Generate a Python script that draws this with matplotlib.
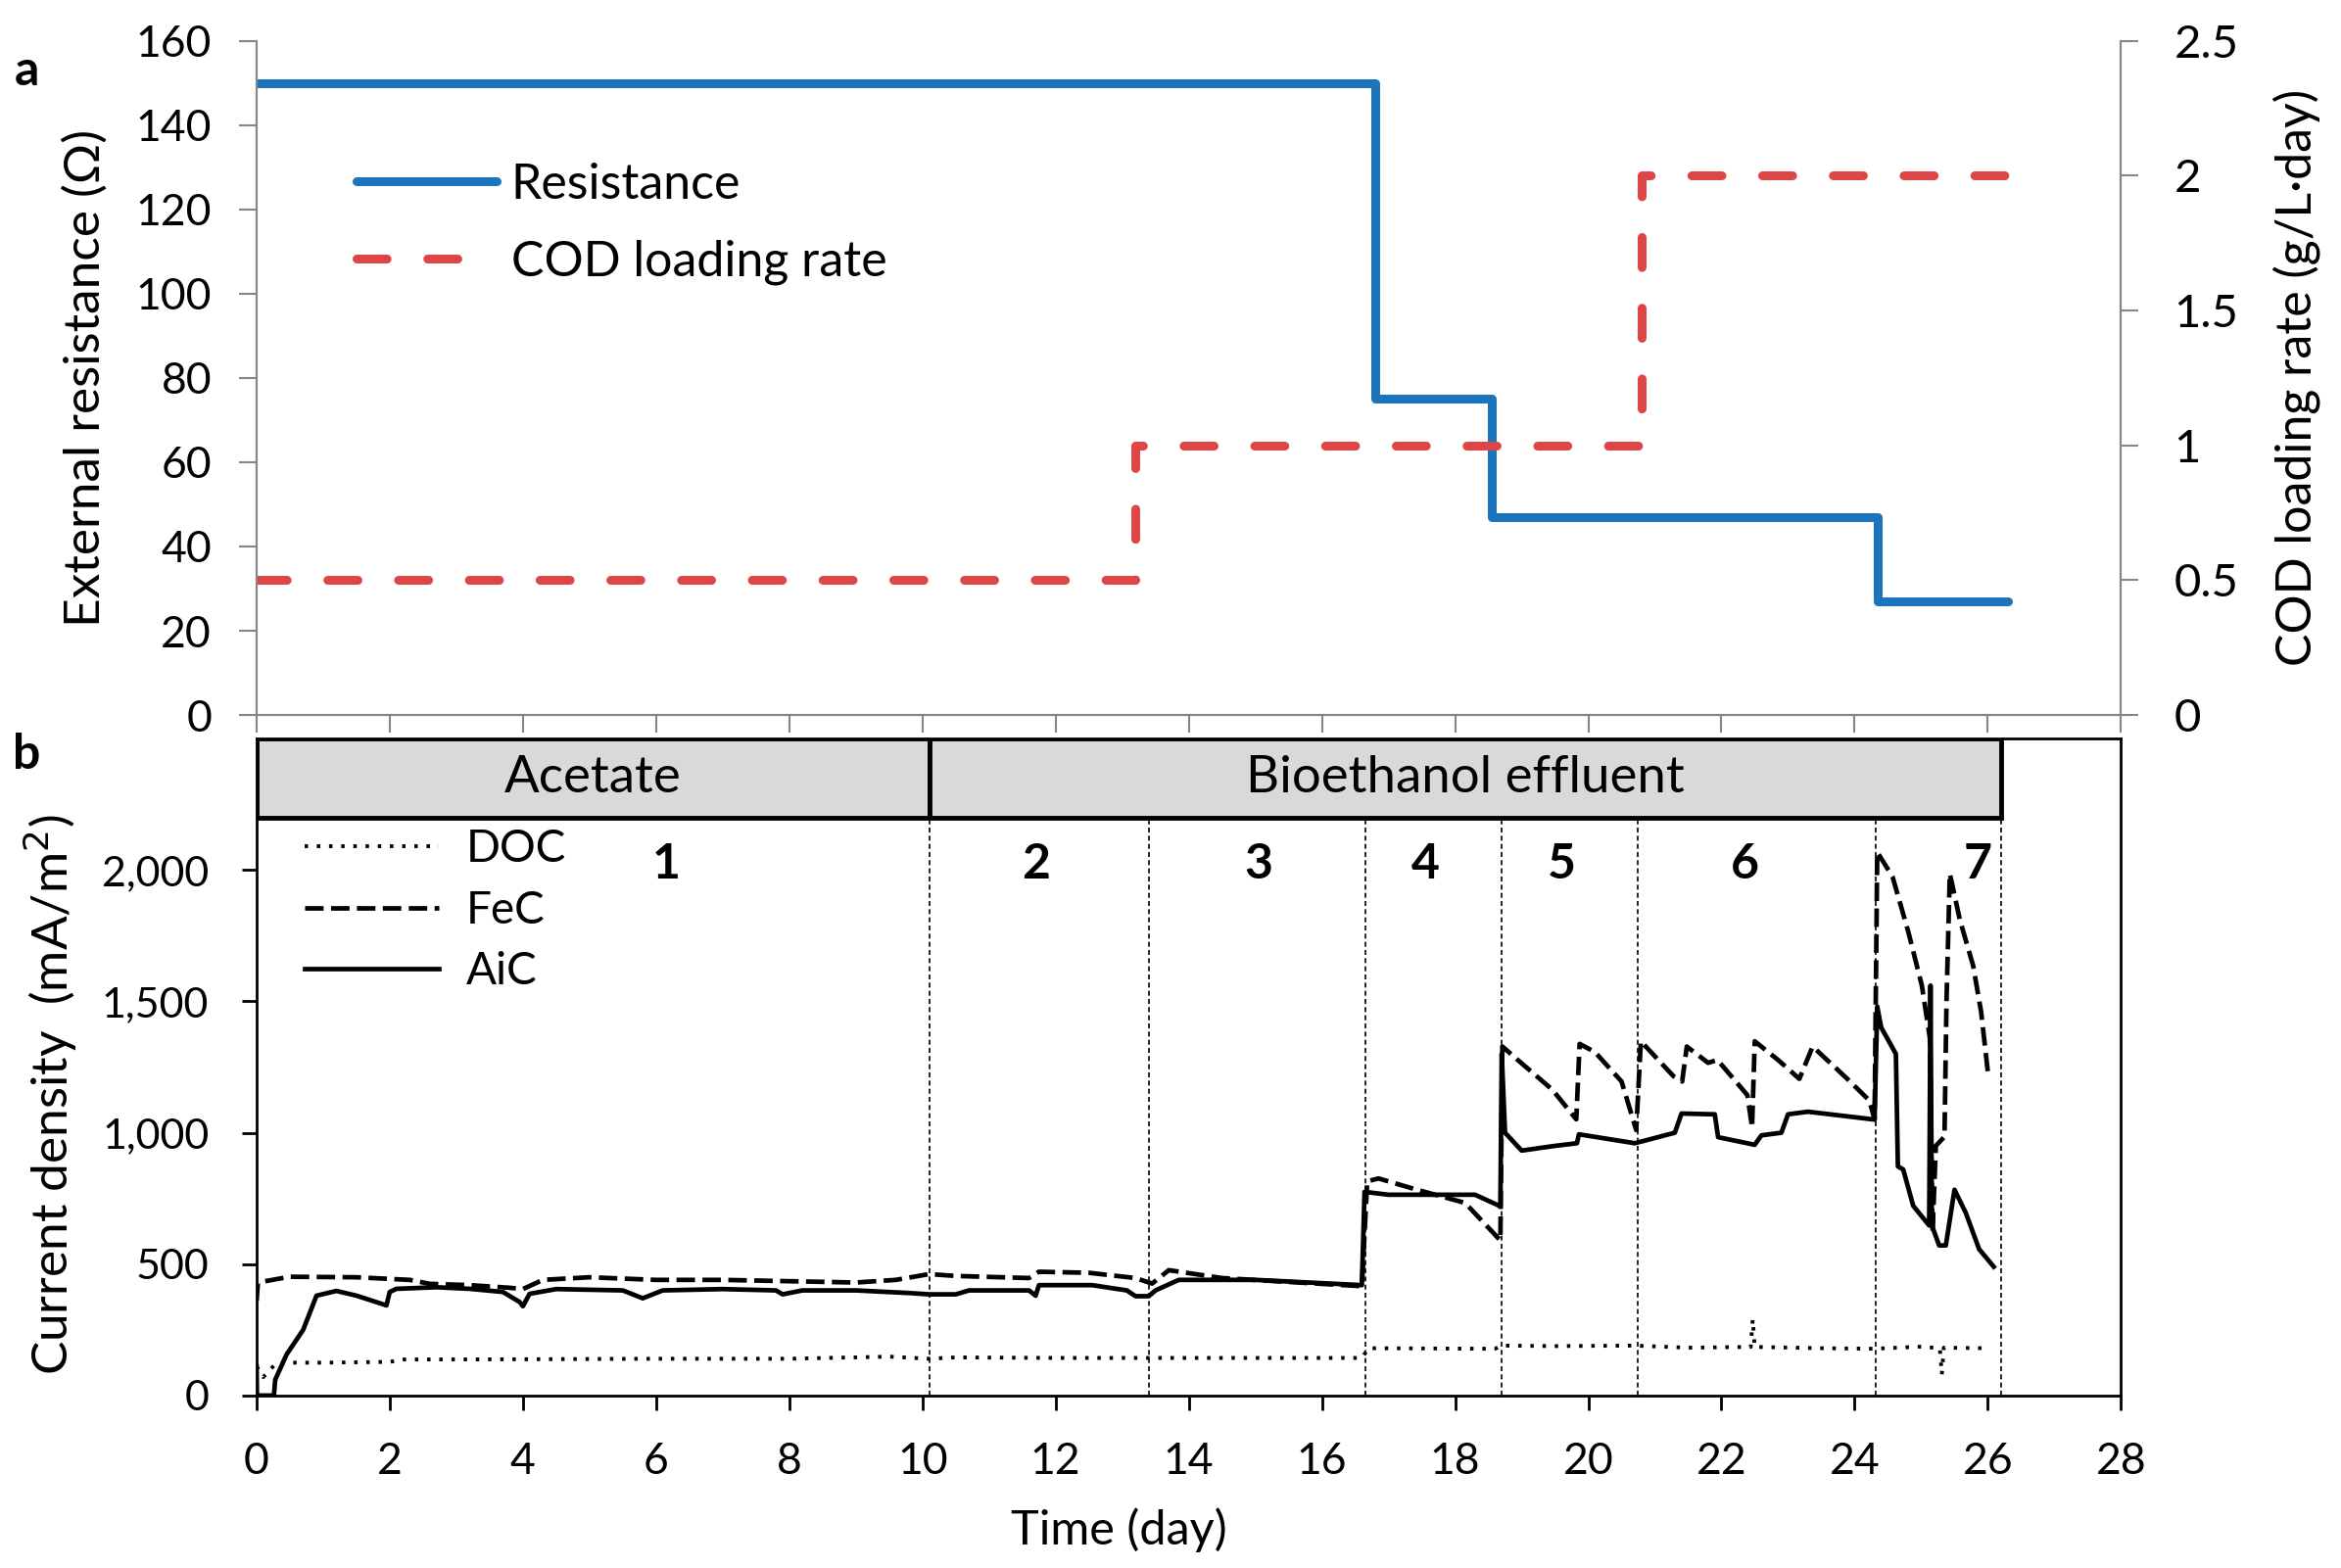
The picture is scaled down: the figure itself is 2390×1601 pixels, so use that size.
import matplotlib
matplotlib.use("Agg")
import matplotlib.pyplot as plt
from matplotlib.patches import Rectangle
from matplotlib.ticker import FuncFormatter

plt.rcParams['font.family'] = ['Lato', 'DejaVu Sans']

# ---- panel a: operating conditions
res_days = [0, 16.8, 18.55, 24.35, 26.3]
res_ohm = [150, 75, 47, 27, 27]
cod_days = [0, 13.2, 20.8, 26.3]
cod_rate = [0.5, 1, 2, 2]

# ---- panel b: current density (mA/m2)
doc_t = [0, 0.1, 0.3, 1.0, 2.0, 2.2, 4.0, 6.0, 8.0, 9.5,
         10.1, 10.5, 12.0, 14.0, 16.6, 16.7, 18.6, 18.7, 19.5, 20.7,
         21.5, 22.44, 22.47, 22.5, 23.5, 24.3, 25.0, 25.28, 25.31, 25.34,
         26.0]
doc_v = [110, 70, 125, 125, 128, 137, 138, 140, 140, 148,
         140, 145, 143, 143, 143, 180, 178, 190, 188, 190,
         182, 185, 290, 185, 180, 178, 186, 180, 80, 182,
         180]

fec_t = [0, 0.02, 0.5, 1.5, 2.3, 2.6, 3.2, 3.8, 4.0, 4.3,
         5.0, 6.0, 7.0, 8.0, 9.0, 9.6, 10.1, 10.5, 11.6, 11.75,
         12.5, 13.2, 13.45, 13.7, 14.5, 16.6, 16.68, 16.85, 17.4, 18.15,
         18.68, 18.71, 18.94, 19.46, 19.82, 19.87, 20.1, 20.5, 20.72, 20.79,
         21.28, 21.41, 21.48, 21.8, 21.94, 22.39, 22.46, 22.5, 22.85, 23.17,
         23.37, 23.89, 24.22, 24.3, 24.34, 24.57, 24.81, 25.01, 25.13, 25.17,
         25.22, 25.35, 25.38, 25.43, 25.58, 25.78, 25.9, 26.0]
fec_v = [360, 430, 452, 450, 440, 425, 420, 410, 405, 440,
         450, 440, 440, 435, 430, 440, 462, 455, 447, 471,
         467, 447, 426, 477, 447, 416, 815, 826, 785, 733,
         590, 1328, 1277, 1164, 1051, 1338, 1307, 1195, 1010, 1348,
         1215, 1195, 1328, 1266, 1277, 1143, 1020, 1348, 1277, 1205,
         1328, 1205, 1123, 1051, 2068, 1974, 1761, 1560, 1361, 620,
         950, 985, 1500, 1986, 1811, 1636, 1460, 1234]

aic_t = [0, 0.005, 0.26, 0.28, 0.45, 0.7, 0.9, 1.2, 1.5, 1.95,
         2.0, 2.1, 2.7, 3.2, 3.7, 3.95, 4.0, 4.1, 4.5, 5.5,
         5.8, 6.1, 7.0, 7.8, 7.9, 8.2, 9.0, 9.8, 10.1, 10.5,
         10.7, 11.6, 11.7, 11.75, 12.55, 13.07, 13.2, 13.4, 13.5, 13.85,
         15.0, 16.6, 16.64, 17.0, 18.3, 18.68, 18.7, 18.75, 19.0, 19.5,
         19.83, 19.86, 20.7, 21.0, 21.3, 21.4, 21.9, 21.95, 22.5, 22.6,
         22.9, 23.0, 23.3, 24.3, 24.34, 24.4, 24.62, 24.65, 24.73, 24.88,
         25.12, 25.14, 25.16, 25.27, 25.37, 25.5, 25.67, 25.87, 26.09]
aic_v = [110, 0, 0, 60, 156, 250, 380, 398, 380, 343,
         394, 406, 412, 406, 394, 356, 340, 387, 405, 400,
         370, 400, 405, 400, 385, 400, 400, 390, 385, 385,
         400, 400, 380, 420, 420, 400, 378, 378, 400, 440,
         440, 420, 775, 764, 764, 720, 1300, 1000, 932, 950,
         960, 994, 960, 980, 1000, 1073, 1070, 983, 954, 990,
         1000, 1070, 1080, 1050, 1480, 1400, 1300, 872, 860, 722,
         647, 1560, 647, 571, 571, 783, 695, 557, 490]

feed_names = ["Acetate", "Bioethanol effluent"]
feed_edges = [0, 10.1, 26.2]
phase_edges = [10.1, 13.4, 16.65, 18.7, 20.75, 24.32, 26.2]
phase_labels = ["1", "2", "3", "4", "5", "6", "7"]
phase_pos = [6.15, 11.7, 15.05, 17.55, 19.6, 22.35, 25.85]

grey = '#868686'
blue = '#1c75bc'
red = '#de4545'

fig = plt.figure(figsize=(23.9, 16.01), dpi=100)

# ================= panel a
ax_a = fig.add_axes([0.1096, 0.544, 0.7964, 0.430])
ax_c = ax_a.twinx()
l1, = ax_a.plot(res_days, res_ohm, drawstyle='steps-post', color=blue, lw=6.5,
                solid_capstyle='round', solid_joinstyle='round', label='Resistance')
l2, = ax_c.plot(cod_days, cod_rate, drawstyle='steps-post', color=red, lw=6.5,
                linestyle=(0, (3.4, 4.6)), dash_capstyle='round', label='COD loading rate')
ax_a.set_xlim(0, 28)
ax_a.set_ylim(0, 160)
ax_c.set_ylim(0, 2.5)
ax_a.set_xticks(range(0, 29, 2))
ax_a.set_xticklabels([])
ax_a.set_yticks(range(0, 161, 20))
ax_c.set_yticks([0, 0.5, 1, 1.5, 2, 2.5])
ax_c.set_yticklabels(['0', '0.5', '1', '1.5', '2', '2.5'])
for ax in (ax_a, ax_c):
    ax.spines['top'].set_visible(False)
    for s in ax.spines.values():
        s.set_color(grey)
        s.set_linewidth(1.5)
    ax.tick_params(axis='both', colors=grey, labelcolor='black',
                   length=13, width=1.5, direction='out')
ax_a.tick_params(axis='y', labelsize=32, pad=20)
ax_c.tick_params(axis='y', labelsize=34, pad=26)
ax_a.legend(handles=[l1, l2], loc='upper left', bbox_to_anchor=(0.03, 0.885),
            frameon=False, fontsize=36, handlelength=2.85, handletextpad=0.3,
            labelspacing=0.66)

fig.text(0.0365, 0.759, 'External resistance (Ω)', rotation=90, ha='center',
         va='center', fontsize=37)
fig.text(0.981, 0.759, 'COD loading rate (g/L·day)', rotation=90, ha='center',
         va='center', fontsize=36)
fig.text(0.0115, 0.955, 'a', fontsize=36, fontweight='bold', ha='center', va='center')

# ================= panel b
ax_b = fig.add_axes([0.1096, 0.110, 0.7964, 0.419])
ax_b.plot(doc_t, doc_v, color='black', lw=2.8, linestyle=(0, (0.9, 2.3)), label='DOC')
ax_b.plot(fec_t, fec_v, color='black', lw=3.4, linestyle=(0, (4.0, 1.6)), label='FeC')
ax_b.plot(aic_t, aic_v, color='black', lw=3.4, label='AiC')
ax_b.set_xlim(0, 28)
ax_b.set_ylim(0, 2500)
ax_b.set_xticks(range(0, 29, 2))
ax_b.set_yticks(range(0, 2001, 500))
ax_b.yaxis.set_major_formatter(FuncFormatter(lambda v, p: f'{int(v):,}'))
for s in ax_b.spines.values():
    s.set_linewidth(2)
ax_b.tick_params(axis='both', length=11, width=2, direction='out')
ax_b.tick_params(axis='x', labelsize=32, pad=23)
ax_b.tick_params(axis='y', labelsize=31, pad=24)

for x in phase_edges:
    ax_b.plot([x, x], [0, 2200], color='black', lw=1.2, linestyle=(0, (3, 2)))
for i, name in enumerate(feed_names):
    x0, x1 = feed_edges[i], feed_edges[i + 1]
    ax_b.add_patch(Rectangle((x0, 2200), x1 - x0, 300, facecolor='#d9d9d9',
                             edgecolor='black', lw=3.5, zorder=3))
    ax_b.text((x0 + x1) / 2, 2350, name, ha='center', va='center', fontsize=38, zorder=4)
for x, lab in zip(phase_pos, phase_labels):
    ax_b.text(x, 2020, lab, ha='center', va='center', fontsize=36, fontweight='bold')

ax_b.legend(loc='upper left', bbox_to_anchor=(0.016, 0.89), frameon=False, fontsize=33,
            handlelength=3.0, handletextpad=0.6, labelspacing=0.45, borderaxespad=0)

fig.text(0.0215, 0.302, 'Current density  (mA/m$^2$)', rotation=90, ha='center',
         va='center', fontsize=37)
fig.text(0.478, 0.0245, 'Time (day)', ha='center', va='center', fontsize=35)
fig.text(0.0115, 0.519, 'b', fontsize=36, fontweight='bold', ha='center', va='center')

fig.savefig('out.png', dpi=100)
